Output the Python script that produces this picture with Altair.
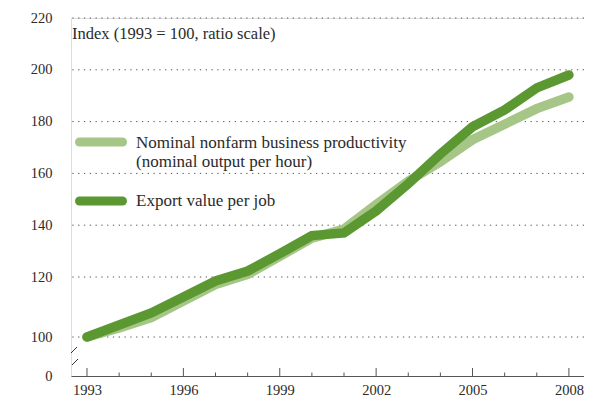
import altair as alt
import pandas as pd

years = list(range(1993, 2009))
productivity = [100, 103, 106.5, 112, 117.5, 121, 128, 135, 138.5, 148, 157, 164.5, 173, 179, 185, 189.5]
export_per_job = [100, 104, 108, 113.3, 118.7, 122.3, 129, 136, 137, 145.5, 156, 167.5, 178, 184.5, 193, 198]

series_names = ["Nominal nonfarm business productivity", "Export value per job"]
legend_line1 = "Nominal nonfarm business productivity"
legend_line2 = "(nominal output per hour)"
legend_label_b = "Export value per job"
y_title = "Index (1993 = 100, ratio scale)"
y_ticks = [0, 100, 120, 140, 160, 180, 200, 220]
grid_values = [100, 120, 140, 160, 180, 200, 220]
x_labels = [1993, 1996, 1999, 2002, 2005, 2008]
minor_years = [y for y in years if y not in x_labels]

LIGHT = "#a5c687"
DARK = "#5b9832"
TXT = "#2b2b2b"
FONT = "Liberation Serif"

df = pd.DataFrame({
    "year": years * 2,
    "value": productivity + export_per_job,
    "series": [series_names[0]] * len(years) + [series_names[1]] * len(years),
})

W, H = 513, 358
xscale = alt.Scale(domain=[1992.502, 2008.47], nice=False, zero=False)
yscale = alt.Scale(domain=[0, 100, 120, 220], range=[H, 319, 259, 0], zero=False, nice=False)

x_enc = alt.X("year:Q", scale=xscale,
              axis=alt.Axis(values=x_labels, format="d", grid=False, ticks=False, title=None,
                            domainColor="#555", domainWidth=1, labelFont=FONT, labelFontSize=14.5,
                            labelColor=TXT, labelPadding=7, labelFlush=False))
y_enc = alt.Y("value:Q", scale=yscale,
              axis=alt.Axis(values=y_ticks, grid=False, ticks=False, domain=False, title=None,
                            labelFont=FONT, labelFontSize=14.5, labelColor=TXT, labelPadding=19))

base = alt.Chart(df)

grid = alt.Chart(pd.DataFrame({"g": grid_values})).mark_rule(
    color="#555", strokeWidth=1, strokeDash=[1.3, 4.5]
).encode(y=alt.Y("g:Q", scale=yscale))

light = base.transform_filter(alt.datum.series == series_names[0]).mark_line(
    color=LIGHT, strokeWidth=9.5, strokeCap="round", strokeJoin="miter"
).encode(x=x_enc, y=y_enc)

dark = base.transform_filter(alt.datum.series == series_names[1]).mark_line(
    color=DARK, strokeWidth=9.5, strokeCap="round", strokeJoin="miter"
).encode(x=x_enc, y=y_enc)

major_ticks = alt.Chart(pd.DataFrame({"t": x_labels})).mark_rule(color="#555", strokeWidth=1).encode(
    x=alt.X("t:Q", scale=xscale), y=alt.value(H - 8), y2=alt.value(H))
minor_ticks = alt.Chart(pd.DataFrame({"t": minor_years})).mark_rule(color="#555", strokeWidth=1).encode(
    x=alt.X("t:Q", scale=xscale), y=alt.value(H - 3.5), y2=alt.value(H))

one = pd.DataFrame({"k": [0]})
brk1 = alt.Chart(one).mark_rule(color="#333", strokeWidth=1).encode(
    x=alt.value(0), x2=alt.value(6), y=alt.value(H - 23), y2=alt.value(H - 29))
brk2 = alt.Chart(one).mark_rule(color="#333", strokeWidth=1).encode(
    x=alt.value(1), x2=alt.value(7), y=alt.value(H - 11), y2=alt.value(H - 17))

title = alt.Chart(one).mark_text(align="left", baseline="middle", font=FONT, fontSize=16.5, color=TXT).encode(
    x=alt.value(1), y=alt.value(16), text=alt.datum(y_title))

sw1 = alt.Chart(one).mark_rule(color=LIGHT, strokeWidth=9, strokeCap="round").encode(
    x=alt.value(8.5), x2=alt.value(51.5), y=alt.value(124))
sw2 = alt.Chart(one).mark_rule(color=DARK, strokeWidth=9, strokeCap="round").encode(
    x=alt.value(8.5), x2=alt.value(51.5), y=alt.value(183))

txt_style = dict(align="left", baseline="middle", font=FONT, fontSize=17, color=TXT)
lt1 = alt.Chart(one).mark_text(**txt_style).encode(
    x=alt.value(65), y=alt.value(125), text=alt.datum(legend_line1))
lt1b = alt.Chart(one).mark_text(**txt_style).encode(
    x=alt.value(65), y=alt.value(144), text=alt.datum(legend_line2))
lt2 = alt.Chart(one).mark_text(**txt_style).encode(
    x=alt.value(65), y=alt.value(183), text=alt.datum(legend_label_b))

chart = alt.layer(
    grid, light, dark, major_ticks, minor_ticks, brk1, brk2, title, sw1, sw2, lt1, lt1b, lt2
).properties(
    width=W, height=H,
    autosize=alt.AutoSizeParams(type="none"),
    padding={"left": 63, "top": 10, "right": 0, "bottom": 22},
).configure_view(stroke=None).configure(background="white")

chart.save("out.html", embed_options={"renderer": "svg", "actions": False})
